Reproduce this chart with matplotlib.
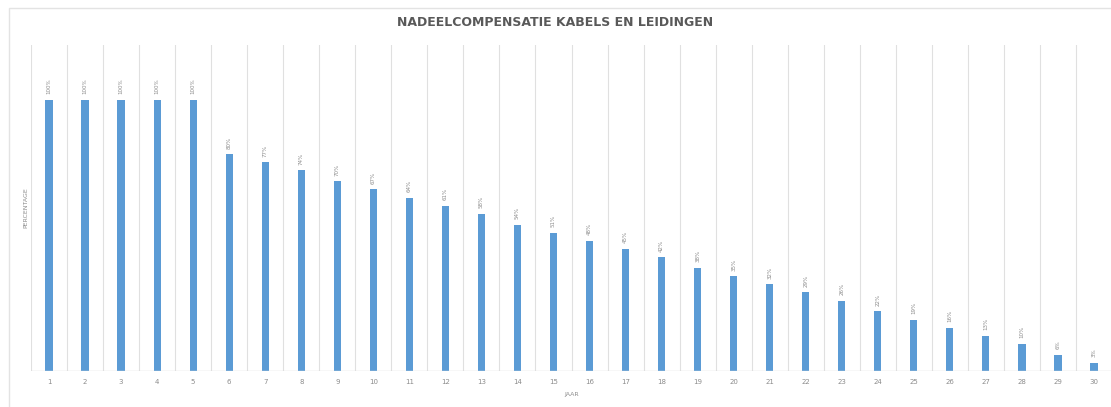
import matplotlib
matplotlib.use("Agg")
import matplotlib.pyplot as plt
from matplotlib.patches import Rectangle

# Data
years = list(range(1, 31))
percentages = [100, 100, 100, 100, 100, 80, 77, 74, 70, 67,
               64, 61, 58, 54, 51, 48, 45, 42, 38, 35,
               32, 29, 26, 22, 19, 16, 13, 10, 6, 3]
labels = [f"{p}%" for p in percentages]

bar_color = "#5B9BD5"
grid_color = "#E0E0E0"
text_color = "#8C8C8C"

fig = plt.figure(figsize=(11.11, 4.07), dpi=100)
fig.patch.set_facecolor("white")

# Outer chart border (light)
fig.add_artist(Rectangle((9 / 1111, -0.01), 1.1, 1 - 8 / 407 + 0.01,
                         transform=fig.transFigure, fill=False,
                         edgecolor="#E3E3E3", linewidth=1.0))

ax = fig.add_axes([31 / 1111, 1 - 371 / 407, 1081 / 1111, (371 - 45) / 407])

ax.bar(years, percentages, width=0.2, color=bar_color, zorder=3)

ax.set_xlim(0.5, 30.5)
ax.set_ylim(0, 120.3)

# Vertical gridlines at category boundaries
for b in range(0, 31):
    ax.axvline(b + 0.5, color=grid_color, linewidth=0.8, zorder=0)

for s in ax.spines.values():
    s.set_visible(False)
ax.axhline(0, color="#D9D9D9", linewidth=1.0, zorder=4)

ax.set_yticks([])
ax.set_xticks(years)
ax.set_xticklabels([str(y) for y in years], fontsize=5, color=text_color)
ax.tick_params(axis="x", length=0, pad=6)

# Data labels above bars, rotated
for x, p, lab in zip(years, percentages, labels):
    ax.annotate(lab, (x, p), xytext=(0, 4), textcoords="offset points",
                rotation=90, ha="center", va="bottom",
                fontsize=4, color=text_color)

ax.set_xlabel("JAAR", fontsize=4.5, color=text_color, labelpad=5)
ax.set_ylabel("PERCENTAGE", fontsize=4.5, color=text_color, labelpad=2)

fig.text(0.5, 1 - 22 / 407, "NADEELCOMPENSATIE KABELS EN LEIDINGEN",
         ha="center", va="center", fontsize=9.0, fontweight="bold",
         color="#595959", family="DejaVu Sans")

fig.savefig("out.png", dpi=100, facecolor="white")
